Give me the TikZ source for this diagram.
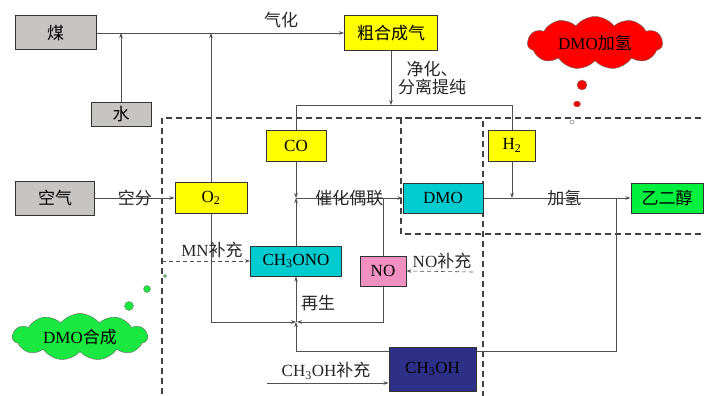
\documentclass[tikz,border=0pt]{standalone}
\usepackage{fontspec}
\setmainfont{Liberation Serif}
\newfontfamily\cjk{Noto Sans CJK SC}
\usepackage{tikz}
\usetikzlibrary{arrows.meta, positioning, shapes.symbols}

\definecolor{boxgray}{RGB}{199,196,196}
\definecolor{boxyellow}{RGB}{255,255,0}
\definecolor{boxcyan}{RGB}{0,204,208}
\definecolor{boxpink}{RGB}{240,144,192}
\definecolor{boxnavy}{RGB}{46,48,135}
\definecolor{boxgreen}{RGB}{0,240,64}
\definecolor{cloudred}{RGB}{255,0,0}
\definecolor{cloudgreen}{RGB}{24,232,64}
\definecolor{linegray}{RGB}{80,80,80}

\newcommand{\zh}[1]{{\cjk #1}}

\tikzset{
	unit/.style={draw=black!80, line width=1pt, inner sep=0pt, font=\fontsize{17}{19}\selectfont},
	feed/.style={unit, fill=boxgray},
	gas/.style={unit, fill=boxyellow},
	ester/.style={unit, fill=boxcyan},
	bubble/.style={cloud, cloud puffs=11, cloud puff arc=105, cloud ignores aspect, draw=black!60, thin, inner sep=0pt, font=\fontsize{17}{19}\selectfont},
	zone/.style={draw=black!75, line width=1.1pt, dash pattern=on 6pt off 4pt},
	makeup/.style={dashed, dash pattern=on 4pt off 3pt},
	tag/.style={font=\fontsize{17}{19}\selectfont, text=black!85, inner sep=2pt}
}

\begin{document}
\begin{tikzpicture}[x=1pt, y=-1pt, ->, >={Stealth[length=5pt, width=3.5pt]}, draw=linegray, semithick]
	\useasboundingbox (0,0) rectangle (704,396);
	
	% Zones
	\draw[zone, -] (162,118) rectangle (483,402);
	\draw[zone, -] (401,118) rectangle (710,234);
	
	% States
	\node[feed, minimum width=81pt, minimum height=34pt] (coal) at (55.5,33) {\zh{煤}};
	\node[feed, minimum width=60pt, minimum height=24pt] (water) at (121,114) {\zh{水}};
	\node[feed, minimum width=79pt, minimum height=34pt] (air) at (55,198) {\zh{空气}};
	\node[gas, minimum width=93pt, minimum height=35pt] (syngas) at (391,33) {\zh{粗合成气}};
	\node[gas, minimum width=60pt, minimum height=31pt] (CO) at (296,145.5) {CO};
	\node[gas, minimum width=47pt, minimum height=31pt] (H2) at (512,145.5) {H\textsubscript{2}};
	\node[gas, minimum width=72pt, minimum height=31pt] (O2) at (211,198) {O\textsubscript{2}};
	\node[ester, minimum width=80pt, minimum height=30pt] (DMO) at (443,198) {DMO};
	\node[unit, fill=boxgreen, minimum width=72pt, minimum height=30pt] (EG) at (667,198) {\zh{乙二醇}};
	\node[ester, minimum width=91pt, minimum height=30pt] (MN) at (296,261) {CH\textsubscript{3}ONO};
	\node[unit, fill=boxpink, minimum width=46pt, minimum height=30pt] (NO) at (383,271) {NO};
	
	% Junctions
	\coordinate (split) at (syngas.south |- 0,105);
	\coordinate (coTap) at (CO.north |- split);
	\coordinate (hTap) at (H2.north |- split);
	\coordinate (couple) at (CO.south |- DMO.west);
	\coordinate (noTap) at (NO.north |- DMO.west);
	\coordinate (hJoin) at (H2.south |- DMO.east);
	\coordinate (regen) at (MN.south |- 0,322);
	\coordinate (eTap) at (616,198);
	\coordinate (eDown) at (616,351);
	\coordinate (mnIn) at (162,261);
	\coordinate (noIn) at (473,272);
	\coordinate (meIn) at (267,383);
	
	% Edges
	\draw (coal.east) -- (syngas.west);
	\draw (water.north) -- (water.north |- coal.east);
	\draw (O2.north) -- (O2.north |- coal.east);
	\node[tag] at (281,20) {\zh{气化}};
	\draw (syngas.south) -- (split);
	\draw[-] (coTap) -- (hTap);
	\draw[-] (coTap) -- (CO.north);
	\draw[-] (hTap) -- (H2.north);
	\node[tag, align=center] at (432,78) {\zh{净化、}\\[-1pt]\zh{分离提纯}};
	\path (air) edge node[tag] {\zh{空分}} (O2);
	\draw (CO.south) -- (couple);
	\draw (MN.north) -- (couple);
	\path (couple) edge node[tag] {\zh{催化偶联}} (DMO.west);
	\draw[-] (noTap) -- (NO.north);
	\draw (H2.south) -- (hJoin);
	\path (DMO.east) edge node[tag, pos=0.55] {\zh{加氢}} (EG.west);
	\draw (O2.south) |- (regen);
	\draw (NO.south) |- ([xshift=1pt]regen);
	\draw (regen) -- (MN.south);
	\node[tag] at (318,303) {\zh{再生}};
	\draw (eTap) -- (eDown) -| (regen);
	\draw[makeup] (mnIn) -- (MN.west);
	\node[tag] at (212,250) {MN\zh{补充}};
	\draw[makeup] (noIn) -- (NO.east);
	\node[tag] at (442,261) {NO\zh{补充}};
	
	% Methanol and clouds
	\node[unit, fill=boxnavy, minimum width=87pt, minimum height=44pt] (MeOH) at (432.5,369) {CH\textsubscript{3}OH};
	\draw (meIn) -- (MeOH.west |- meIn);
	\node[tag] at (326,371) {CH\textsubscript{3}OH\zh{补充}};
	\node[bubble, fill=cloudred, minimum width=135pt, minimum height=53pt] (hydro) at (595,43) {DMO\zh{加氢}};
	\node[bubble, fill=cloudgreen, minimum width=135pt, minimum height=47pt] (synth) at (80,337) {DMO\zh{合成}};
	\draw[-, fill=cloudred, draw=black!50, thin] (582,85) circle (5) (577,104) ellipse (3.5 and 3);
	\draw[-, fill=white, draw=black!60, thin] (572,122) circle (2);
	\draw[-, fill=cloudgreen, draw=black!50, thin] (129,306) circle (4.5) (147,289) circle (3.5) (165,276) circle (1.5);
	
\end{tikzpicture}
\end{document}
